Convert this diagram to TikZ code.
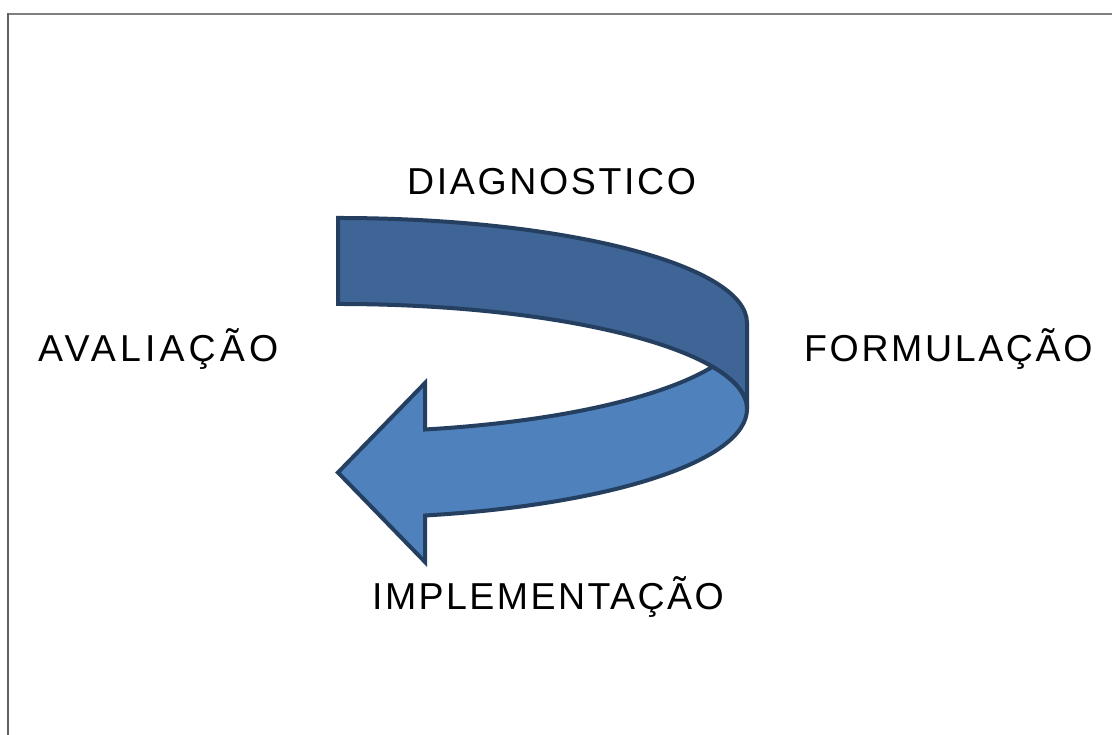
\documentclass[tikz,border=0pt]{standalone}
\usepackage{fontspec}
\setmainfont{Liberation Sans}[LetterSpace=7]
\begin{document}
\begin{tikzpicture}[x=1pt,y=1pt,
  label/.style={inner sep=0pt, anchor=base west, font=\fontsize{37.5}{40}\selectfont},
  band/.style={draw=bandline, line width=4pt, line join=miter},
  frame/.style={line width=2pt}]
\definecolor{bandline}{HTML}{243F60}
\definecolor{darkband}{HTML}{3F6496}
\definecolor{lightband}{HTML}{4F81BD}
\useasboundingbox (0,0) rectangle (1112,735);
\fill[white] (0,0) rectangle (1112,735);
% frame
\draw[frame, draw={rgb,255:red,128;green,128;blue,128}] (7,721) -- (1112,721);
\draw[frame, draw={rgb,255:red,96;green,96;blue,96}] (7.5,722) -- (7.5,0);
% dark (upper) band
\draw[band, fill=darkband] (338,517) -- (338,431)
  arc[start angle=90, end angle=0, x radius=409, y radius=105]
  -- (747,412)
  arc[start angle=0, end angle=90, x radius=409, y radius=105]
  -- cycle;
% light (lower) band with arrow head
\draw[band, fill=lightband] (425,305.5)
  arc[start angle=-77.72, end angle=-23.7, x radius=409, y radius=109]
  arc[start angle=23.7, end angle=0, x radius=409, y radius=105]
  arc[start angle=0, end angle=-77.72, x radius=409, y radius=109]
  -- (425,173) -- (338,262.5) -- (425,352) -- cycle;
% labels
\node[label] (diag) at (407,540) {DIAGNOSTICO};
\node[label] (aval) at (38,373) {\addfontfeatures{LetterSpace=11}AVALIAÇÃO};
\node[label] (form) at (804,373) {FORMULAÇÃO};
\node[label] (impl) at (372,125) {\addfontfeatures{LetterSpace=6.5}IMPLEMENTAÇÃO};
\end{tikzpicture}
\end{document}
